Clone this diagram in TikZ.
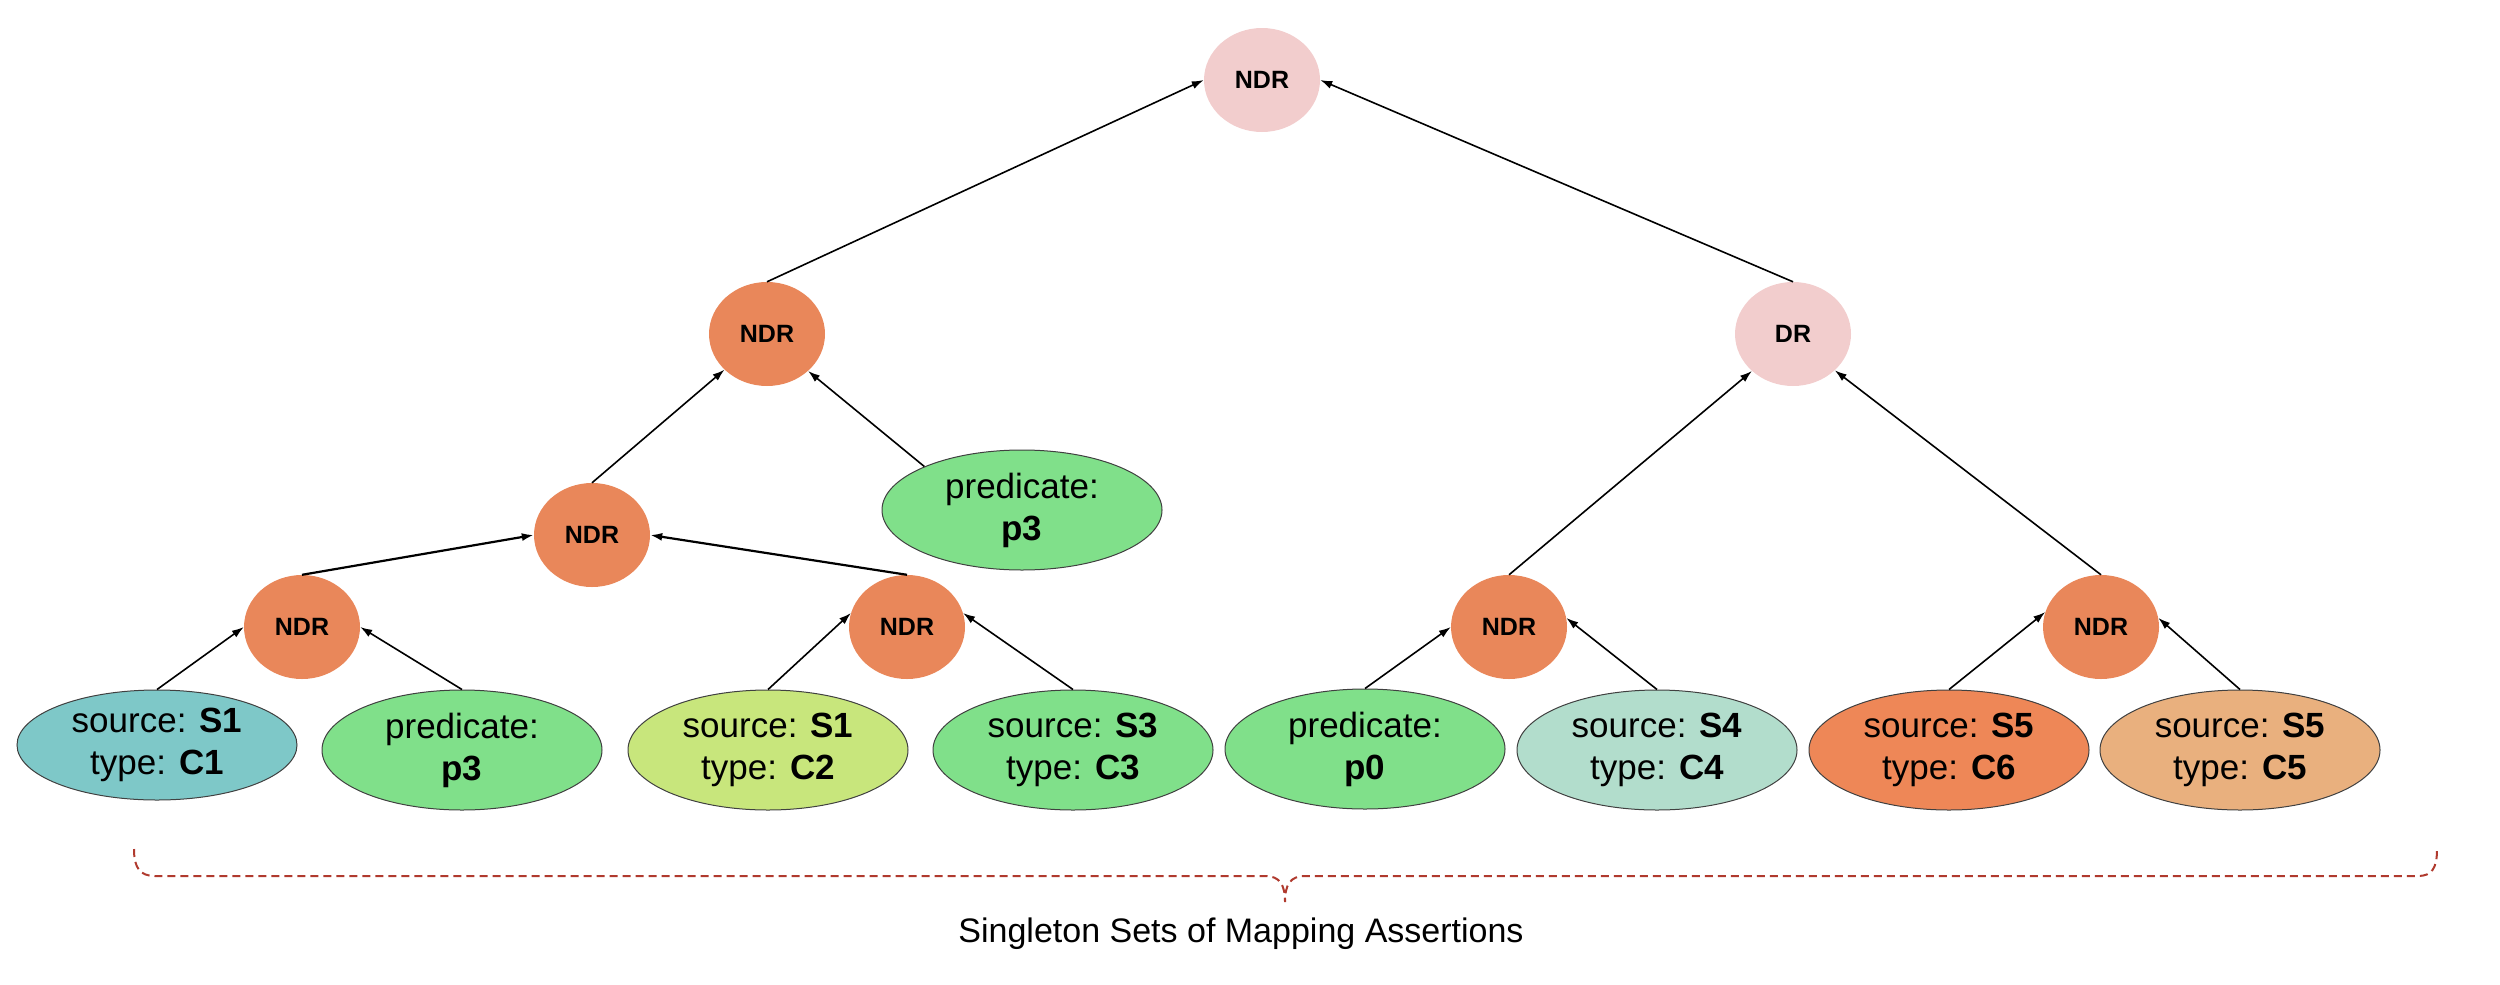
\documentclass[tikz,border=0pt]{standalone}
\usepackage{fontspec}
\setmainfont{Liberation Sans}
\usetikzlibrary{shapes.geometric,arrows.meta}
\definecolor{pinkc}{HTML}{F2CDCD}
\definecolor{ndrc}{HTML}{E9875A}
\definecolor{tealc}{HTML}{7EC8C8}
\definecolor{greenc}{HTML}{80E08A}
\definecolor{yellowc}{HTML}{C8E67C}
\definecolor{mintc}{HTML}{B2DDCC}
\definecolor{orangec}{HTML}{EE8757}
\definecolor{peachc}{HTML}{E9B07E}
\definecolor{bracec}{HTML}{B03A2E}
\tikzset{
  ndr/.style={ellipse, fill=ndrc, minimum width=116pt, minimum height=104pt, inner sep=0pt,
    font=\fontsize{25}{30}\selectfont\bfseries},
  leaf/.style={ellipse, draw=black!75, line width=1pt, minimum width=280pt, minimum height=120pt,
    inner sep=0pt, align=center, font=\fontsize{35}{42}\selectfont},
  link/.style={-{Latex[length=12pt,width=8pt]}, line width=1.6pt},
  thicklink/.style={link, line width=2.2pt},
}
\begin{document}
\begin{tikzpicture}[x=1pt,y=-1pt]
\useasboundingbox (0,0) rectangle (2500,985);
% top levels
\node[ndr, fill=pinkc] (top) at (1262,80) {NDR};
\node[ndr] (n2) at (767,334) {NDR};
\node[ndr, fill=pinkc] (dr) at (1793,334) {DR};
\node[ndr] (n3) at (592,535) {NDR};
\node[leaf, fill=greenc] (p3a) at (1022,510) {predicate:\\\textbf{p3}};
\node[ndr] (n4a) at (302,627) {NDR};
\node[ndr] (n4b) at (907,627) {NDR};
\node[ndr] (n5a) at (1509,627) {NDR};
\node[ndr] (n5b) at (2101,627) {NDR};
% leaves
\node[leaf, fill=tealc, minimum height=110pt] (l1) at (157,745) {source: \textbf{S1}\\type: \textbf{C1}};
\node[leaf, fill=greenc] (l2) at (462,750) {predicate:\\\textbf{p3}};
\node[leaf, fill=yellowc] (l3) at (768,750) {source: \textbf{S1}\\type: \textbf{C2}};
\node[leaf, fill=greenc] (l4) at (1073,750) {source: \textbf{S3}\\type: \textbf{C3}};
\node[leaf, fill=greenc] (l5) at (1365,749) {predicate:\\\textbf{p0}};
\node[leaf, fill=mintc] (l6) at (1657,750) {source: \textbf{S4}\\type: \textbf{C4}};
\node[leaf, fill=orangec] (l7) at (1949,750) {source: \textbf{S5}\\type: \textbf{C6}};
\node[leaf, fill=peachc] (l8) at (2240,750) {source: \textbf{S5}\\type: \textbf{C5}};
% edges
\draw[link] (l1.north) -- (n4a.west);
\draw[link] (l2.north) -- (n4a.east);
\draw[link] (l3.north) -- (n4b.166);
\draw[link] (l4.north) -- (n4b.14);
\draw[thicklink] (n4a.north) -- (n3.west);
\draw[thicklink] (n4b.north) -- (n3.east);
\draw[link] (n3.north) -- (n2.-140);
\draw[link] (p3a.156) -- (n2.-42);
\draw[link] (n2.north) -- (top.west);
\draw[link] (dr.north) -- (top.east);
\draw[link] (n5a.north) -- (dr.-138);
\draw[link] (n5b.north) -- (dr.-41);
\draw[link] (l5.north) -- (n5a.west);
\draw[link] (l6.north) -- (n5a.9);
\draw[link] (l7.north) -- (n5b.165);
\draw[link] (l8.north) -- (n5b.9);
% brace
\draw[bracec, line width=2pt, dash pattern=on 8pt off 5pt]
  (134,849) .. controls (134,868) and (140,876) .. (155,876) -- (1265,876)
  .. controls (1280,876) and (1285,885) .. (1285,902)
  .. controls (1285,885) and (1290,876) .. (1305,876) -- (2418,876)
  .. controls (2432,876) and (2437,868) .. (2437,849);
\node[anchor=base, inner sep=0pt, font=\fontsize{34}{40}\selectfont] (lbl) at (1241,942) {Singleton Sets of Mapping Assertions};
\end{tikzpicture}
\end{document}
